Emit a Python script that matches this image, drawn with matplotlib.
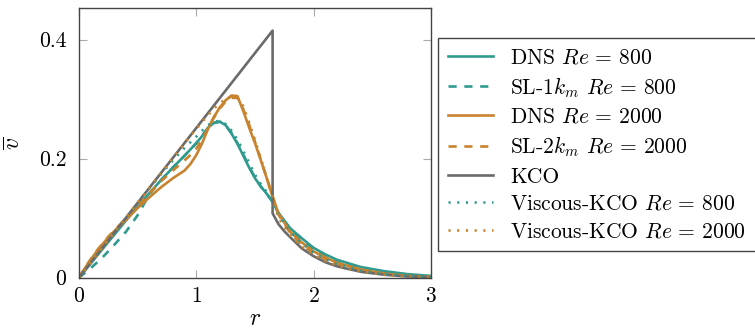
import matplotlib
matplotlib.use("Agg")
import matplotlib.pyplot as plt

plt.rcParams["font.family"] = "cmr10"
plt.rcParams["mathtext.fontset"] = "cm"
plt.rcParams["axes.formatter.use_mathtext"] = True
plt.rcParams["font.size"] = 15.5

teal = "#2f9a8e"
orange = "#c8832f"
grey = "#6b6b6b"

# KCO
r_kco = [0, 1.65, 1.65, 1.70, 1.75, 1.8, 1.9, 2.0, 2.1, 2.2, 2.4, 2.6, 2.8, 3.0]
v_kco = [0, 0.415, 0.108, 0.090, 0.078, 0.068, 0.049, 0.036, 0.026, 0.019, 0.010, 0.005, 0.002, 0.001]

# Re = 800
r_800 = [0, 0.1, 0.2, 0.3, 0.4, 0.5, 0.6, 0.7, 0.8, 0.9, 1.0, 1.05, 1.1, 1.15, 1.2, 1.25, 1.3, 1.35,
         1.4, 1.45, 1.5, 1.55, 1.6, 1.65, 1.7, 1.8, 1.9, 2.0, 2.1, 2.2, 2.4, 2.6, 2.8, 3.0]
v_dns_800 = [0, 0.024, 0.048, 0.072, 0.096, 0.119, 0.142, 0.164, 0.185, 0.205, 0.226, 0.238, 0.252, 0.260,
             0.262, 0.256, 0.242, 0.225, 0.205, 0.185, 0.167, 0.153, 0.141, 0.127, 0.109, 0.083, 0.066,
             0.050, 0.039, 0.030, 0.018, 0.011, 0.006, 0.003]
v_sl1_800 = [0, 0.016, 0.034, 0.055, 0.077, 0.105, 0.140, 0.164, 0.185, 0.205, 0.226, 0.239, 0.251, 0.260,
             0.262, 0.256, 0.243, 0.226, 0.207, 0.187, 0.168, 0.153, 0.141, 0.128, 0.108, 0.080, 0.062,
             0.046, 0.035, 0.026, 0.015, 0.008, 0.004, 0.002]
v_vk_800 = [0, 0.025, 0.050, 0.075, 0.100, 0.125, 0.150, 0.174, 0.197, 0.218, 0.237, 0.247, 0.256, 0.262,
            0.263, 0.258, 0.247, 0.232, 0.213, 0.193, 0.173, 0.157, 0.144, 0.128, 0.105, 0.077, 0.058,
            0.042, 0.031, 0.023, 0.012, 0.006, 0.003, 0.001]

# Re = 2000
r_2000 = [0, 0.05, 0.1, 0.15, 0.2, 0.25, 0.3, 0.4, 0.5, 0.6, 0.7, 0.8, 0.9, 0.95, 1.0, 1.05, 1.1, 1.15, 1.2,
          1.25, 1.3, 1.35, 1.4, 1.45, 1.5, 1.55, 1.6, 1.65, 1.7, 1.8, 1.9, 2.0, 2.1, 2.2, 2.4, 2.6, 2.8, 3.0]
v_dns_2000 = [0, 0.016, 0.030, 0.044, 0.056, 0.068, 0.078, 0.097, 0.117, 0.135, 0.152, 0.167, 0.180, 0.191, 0.206,
              0.226, 0.250, 0.270, 0.286, 0.298, 0.306, 0.305, 0.280, 0.252, 0.226, 0.197, 0.167, 0.136,
              0.108, 0.077, 0.059, 0.044, 0.034, 0.025, 0.014, 0.007, 0.003, 0.001]
v_sl2_2000 = [0, 0.017, 0.031, 0.045, 0.057, 0.069, 0.079, 0.100, 0.121, 0.142, 0.162, 0.180, 0.197, 0.206, 0.217,
              0.232, 0.251, 0.269, 0.284, 0.296, 0.302, 0.302, 0.283, 0.257, 0.228, 0.198, 0.168, 0.137,
              0.106, 0.075, 0.055, 0.041, 0.031, 0.023, 0.012, 0.006, 0.003, 0.001]
v_vk_2000 = [0, 0.0126, 0.025, 0.038, 0.050, 0.063, 0.076, 0.101, 0.126, 0.151, 0.176, 0.201, 0.226, 0.238, 0.250,
             0.262, 0.273, 0.284, 0.293, 0.300, 0.304, 0.303, 0.288, 0.261, 0.231, 0.200, 0.168, 0.135,
             0.100, 0.071, 0.052, 0.038, 0.028, 0.020, 0.011, 0.005, 0.002, 0.001]

lw = 1.9
dashed = (0, (3.1, 2.9))
dotted = (0, (0.8, 2.5))

fig = plt.figure(figsize=(7.55, 3.31), dpi=100)
ax = fig.add_axes([0.1046, 0.161, 0.4663, 0.815])

ax.plot(r_800, v_dns_800, color=teal, lw=lw, label=r"DNS $Re\,=\,800$")
ax.plot(r_800, v_sl1_800, color=teal, lw=lw, linestyle=dashed, label=r"SL-1$k_m$ $Re\,=\,800$")
ax.plot(r_2000, v_dns_2000, color=orange, lw=lw, label=r"DNS $Re\,=\,2000$")
ax.plot(r_2000, v_sl2_2000, color=orange, lw=lw, linestyle=dashed, label=r"SL-2$k_m$ $Re\,=\,2000$")
ax.plot(r_kco, v_kco, color=grey, lw=lw, label="KCO")
ax.plot(r_800, v_vk_800, color=teal, lw=lw, linestyle=dotted, label=r"Viscous-KCO $Re\,=\,800$")
ax.plot(r_2000, v_vk_2000, color=orange, lw=lw, linestyle=dotted, label=r"Viscous-KCO $Re\,=\,2000$")

ax.set_xlim(0, 3)
ax.set_ylim(0, 0.453)
ax.set_xticks([0, 1, 2, 3])
ax.set_yticks([0, 0.2, 0.4])
ax.set_yticklabels(["0", "0.2", "0.4"])
ax.tick_params(direction="in", top=True, right=True, length=6, width=0.8,
               color="#aaaaaa", pad=6)
ax.tick_params(axis="y", pad=9)
for s in ax.spines.values():
    s.set_color("#444444")
    s.set_linewidth(1.0)

ax.set_xlabel("$r$", labelpad=2, fontsize=17)
ax.set_ylabel(r"$\overline{v}$", labelpad=10, fontsize=17)

leg = fig.legend(loc="upper left", bbox_to_anchor=(0.5805, 0.885), borderaxespad=0,
                 frameon=True, fancybox=False, framealpha=1, edgecolor="#444444",
                 handlelength=2.1, handletextpad=0.8, labelspacing=0.36, borderpad=0.45)
leg.get_frame().set_linewidth(1.0)

fig.savefig("out.png", dpi=100)
